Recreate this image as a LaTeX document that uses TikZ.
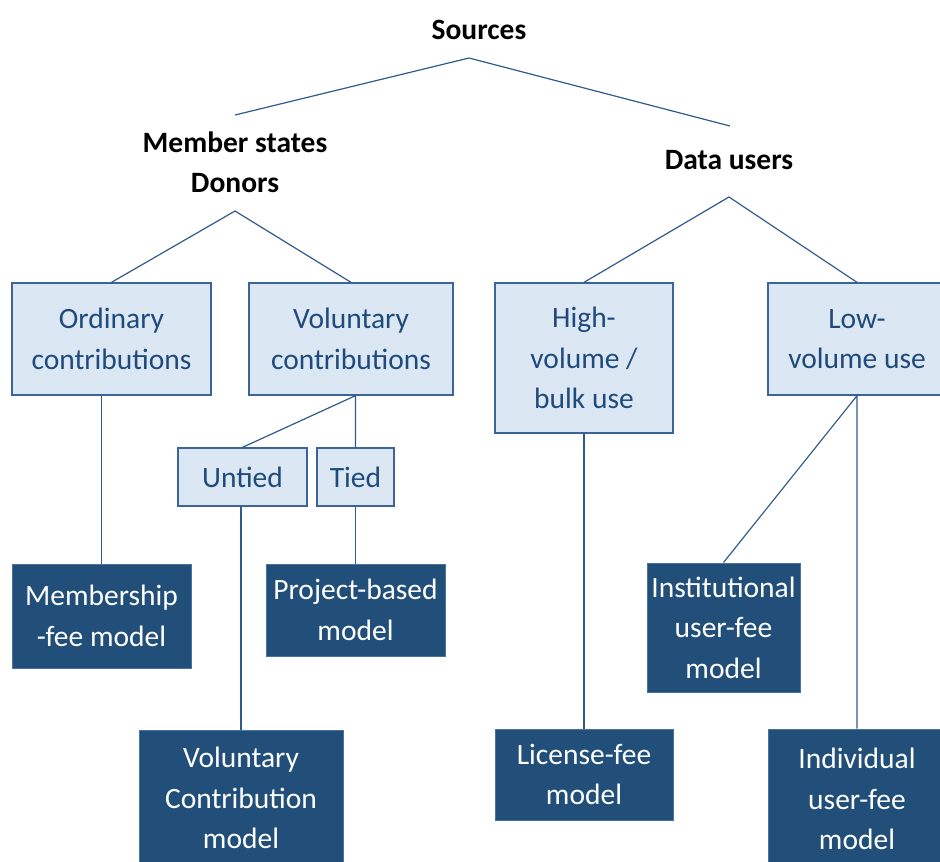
\documentclass[tikz,border=0pt]{standalone}
\usepackage{fontspec}
\setmainfont{Carlito}
\definecolor{linecol}{HTML}{2F5A8C}
\definecolor{edgecol}{HTML}{3A6596}
\definecolor{lightfill}{HTML}{DCE7F4}
\definecolor{lighttext}{HTML}{1F4A7C}
\definecolor{darkfill}{HTML}{214F7A}
\definecolor{darkedge}{HTML}{4A72A0}
\newcommand\treefont{\fontsize{29.5pt}{40.5pt}\selectfont}
\begin{document}
\begin{tikzpicture}[x=1pt,y=-1pt,
  conn/.style={draw=linecol, line width=1.2pt},
  boxbase/.style={rectangle, align=center, inner sep=0pt, font=\treefont},
  lightbox/.style={boxbase, draw=edgecol, line width=1.3pt, fill=lightfill, text=lighttext},
  darkbox/.style={boxbase, draw=darkedge, line width=1pt, fill=darkfill, text=white},
  head/.style={align=center, inner sep=0pt, text=black, font=\treefont\bfseries}]
\useasboundingbox (0,0) rectangle (940,862);
\clip (0,0) rectangle (940,862);

% headings
\node[head, anchor=base] (src) at (479,39) {Sources};
\node[head] (ms) at (235,162.5) {Member states\\Donors};
\node[head, anchor=base] (du) at (729,169) {Data users};

% junction points below the headings
\coordinate (srcJ) at (469,58);
\coordinate (msT) at (235,115);
\coordinate (duT) at (730,126);
\coordinate (msJ) at (235,211);
\coordinate (duJ) at (729,197);

% second level: kinds of funding
\node[lightbox, minimum width=199pt, minimum height=112pt] (ord) at (111.5,339) {Ordinary\\contributions};
\node[lightbox, minimum width=204pt, minimum height=112pt] (vol) at (351,339) {Voluntary\\contributions};
\node[lightbox, minimum width=178pt, minimum height=150pt] (high) at (584,358) {High-\\volume /\\bulk use};
\node[lightbox, minimum width=178pt, minimum height=112pt] (low) at (857,339) {Low-\\volume use};

% tied / untied
\node[lightbox, minimum width=129pt, minimum height=58pt] (untied) at (242.5,477) {Untied};
\node[lightbox, minimum width=77pt, minimum height=58pt] (tied) at (355.5,477) {Tied};

% funding models
\node[darkbox, minimum width=179pt, minimum height=104pt] (mem) at (101.5,616) {Membership\\-fee model};
\node[darkbox, minimum width=179pt, minimum height=92pt] (proj) at (355.5,610) {Project-based\\model};
\node[darkbox, minimum width=204pt, minimum height=136pt] (vcm) at (241,798) {Voluntary\\Contribution\\model};
\node[darkbox, minimum width=178pt, minimum height=91pt] (lic) at (584,774.5) {License-fee\\model};
\node[darkbox, minimum width=153pt, minimum height=129pt] (inst) at (723.5,627.5) {Institutional\\user-fee\\model};
\node[darkbox, minimum width=178pt, minimum height=140pt] (ind) at (857,799) {Individual\\user-fee\\model};

% connectors
\draw[conn] (msT) -- (srcJ) -- (duT);
\draw[conn] (ord.north) -- (msJ) -- (vol.north);
\draw[conn] (high.north) -- (duJ) -- (low.north);
\draw[conn] (ord.south -| mem.north) -- (mem.north);
\draw[conn] (untied.north) -- (vol.south -| tied.north) -- (tied.north);
\draw[conn] (untied.south -| vcm.north) -- (vcm.north);
\draw[conn] (tied.south) -- (proj.north);
\draw[conn] (high.south) -- (lic.north);
\draw[conn] (inst.north) -- (low.south) -- (ind.north);
\end{tikzpicture}
\end{document}
